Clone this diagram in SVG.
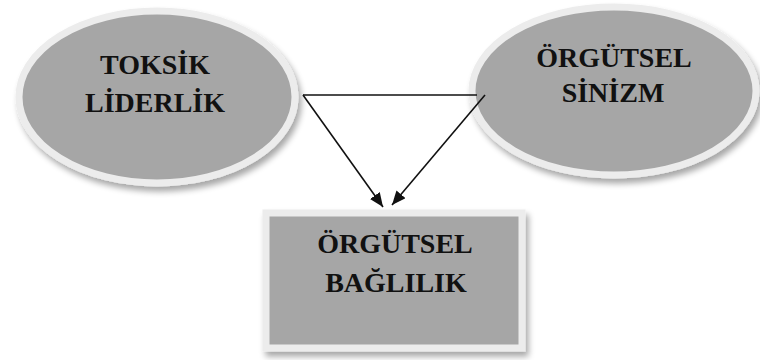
<svg xmlns="http://www.w3.org/2000/svg" width="760" height="360" viewBox="0 0 760 360">
<defs>
<style>
.lbl{font-family:"Liberation Serif","Times New Roman",serif;font-weight:bold;font-size:28px;fill:#111;text-anchor:middle}
.edge{stroke:#111;stroke-width:1.6;fill:none}
.body{fill:#a6a6a6;stroke:#ececec;stroke-width:7}
</style>
<filter id="sh" x="-10%" y="-10%" width="125%" height="130%">
<feGaussianBlur in="SourceAlpha" stdDeviation="3"/>
<feOffset dx="3" dy="5" result="b"/>
<feComponentTransfer><feFuncA type="linear" slope="0.35"/></feComponentTransfer>
<feMerge><feMergeNode/><feMergeNode in="SourceGraphic"/></feMerge>
</filter>
<marker id="ah" markerWidth="14" markerHeight="12" refX="14" refY="6" orient="auto" markerUnits="userSpaceOnUse" viewBox="0 0 14 12">
<path d="M0,0 L14,6 L0,12 z" fill="#111"/>
</marker>
</defs>
<rect width="760" height="360" fill="#fff"/>
<g id="toksik">
<ellipse cx="157" cy="97" rx="138" ry="86" class="body" filter="url(#sh)"/>
<text class="lbl" x="155" y="74">TOKSİK</text>
<text class="lbl" x="155" y="112">LİDERLİK</text>
</g>
<g id="sinizm">
<ellipse cx="614" cy="91" rx="142" ry="84" class="body" filter="url(#sh)"/>
<text class="lbl" x="614" y="67">ÖRGÜTSEL</text>
<text class="lbl" x="613" y="102">SİNİZM</text>
</g>
<g id="baglilik">
<rect x="266" y="213" width="256" height="135" class="body" stroke-width="8" filter="url(#sh)"/>
<text class="lbl" x="395" y="253">ÖRGÜTSEL</text>
<text class="lbl" x="396" y="292">BAĞLILIK</text>
</g>
<g id="connectors">
<line class="edge" x1="303" y1="95" x2="477" y2="95"/>
<line class="edge" x1="303" y1="95" x2="383" y2="207" marker-end="url(#ah)"/>
<line class="edge" x1="485" y1="95" x2="392" y2="205" marker-end="url(#ah)"/>
</g>
</svg>
